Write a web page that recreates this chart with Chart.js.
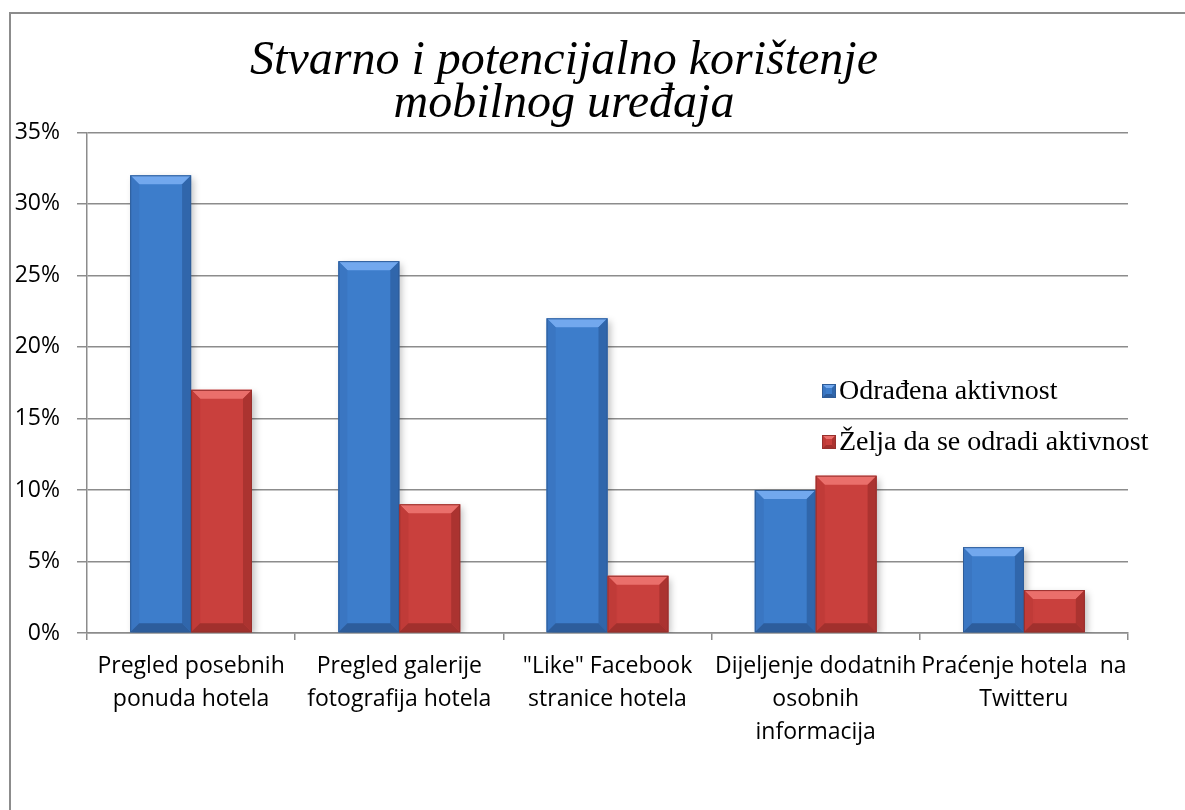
<!DOCTYPE html>
<html>
<head>
<meta charset="utf-8">
<script src="https://cdn.jsdelivr.net/npm/chart.js@4.4.1/dist/chart.umd.min.js"></script>
<style>
  html, body { margin: 0; padding: 0; background: #fff; }
  #wrap { width: 1185px; height: 810px; }
</style>
</head>
<body>
<div id="wrap"><canvas id="mobile-chart" width="1185" height="810"></canvas></div>
<script>
// chart data
const categories = [
    ['Pregled posebnih', 'ponuda hotela'],
    ['Pregled galerije', 'fotografija hotela'],
    ['"Like" Facebook', 'stranice hotela'],
    ['Dijeljenje dodatnih', 'osobnih', 'informacija'],
    ['Praćenje hotela  na', 'Twitteru']
];
const seriesNames = ['Odrađena aktivnost', 'Želja da se odradi aktivnost'];
const doneValues = [32, 26, 22, 10, 6];
const wishValues = [17, 9, 4, 11, 3];
const titleLines = ['Stvarno i potencijalno korištenje', 'mobilnog uređaja'];

// colours for the bevelled bars
const palette = [
    { body: '#3d7dcb', top: '#72a8ee', left: '#3a76c2', right: '#3066ab', bottom: '#2d5d9c', edge: '#2e5c98' },
    { body: '#c9403d', top: '#ea6f6b', left: '#c03b38', right: '#ab3330', bottom: '#a1302d', edge: '#97302d' }
];

const sansFont = "'Open Sans', sans-serif";
const serifFont = "'Liberation Serif', 'Times New Roman', serif";

// outer frame like the original document box
const framePlugin = {
    id: 'frame',
    beforeDraw(chart) {
        const ctx = chart.ctx;
        ctx.save();
        ctx.fillStyle = '#fff';
        ctx.fillRect(0, 0, chart.width, chart.height);
        ctx.strokeStyle = '#8c8c8c';
        ctx.lineWidth = 2;
        ctx.beginPath();
        ctx.moveTo(10, chart.height);
        ctx.lineTo(10, 13);
        ctx.lineTo(chart.width, 13);
        ctx.stroke();
        ctx.restore();
    }
};

// soft shadow under the bars
const shadowPlugin = {
    id: 'barShadow',
    beforeDatasetsDraw(chart) {
        const ctx = chart.ctx;
        ctx.save();
        ctx.shadowColor = 'rgba(0,0,0,0.25)';
        ctx.shadowBlur = 7;
        ctx.shadowOffsetX = 3;
        ctx.shadowOffsetY = 3;
    },
    afterDatasetsDraw(chart) {
        chart.ctx.restore();
    }
};

function bevel(ctx, l, t, r, b, col, size) {
    const s = Math.min(size, (b - t) / 2, (r - l) / 2);
    const poly = (pts, c) => {
        ctx.fillStyle = c;
        ctx.beginPath();
        ctx.moveTo(pts[0][0], pts[0][1]);
        for (let i = 1; i < pts.length; i++) ctx.lineTo(pts[i][0], pts[i][1]);
        ctx.closePath();
        ctx.fill();
    };
    poly([[l, t], [r, t], [r - s, t + s], [l + s, t + s]], col.top);
    poly([[l, t], [l + s, t + s], [l + s, b - s], [l, b]], col.left);
    poly([[r, t], [r, b], [r - s, b - s], [r - s, t + s]], col.right);
    poly([[l, b], [l + s, b - s], [r - s, b - s], [r, b]], col.bottom);
    ctx.strokeStyle = col.edge;
    ctx.lineWidth = 1;
    ctx.strokeRect(l + 0.5, t + 0.5, r - l - 1, b - t - 1);
}

// bevel highlights drawn over each bar the library placed
const bevelPlugin = {
    id: 'bevel',
    afterDatasetsDraw(chart) {
        const ctx = chart.ctx;
        ctx.save();
        chart.data.datasets.forEach((ds, i) => {
            const meta = chart.getDatasetMeta(i);
            meta.data.forEach(bar => {
                const p = bar.getProps(['x', 'y', 'base', 'width'], true);
                bevel(ctx, p.x - p.width / 2, p.y, p.x + p.width / 2, p.base, palette[i], 9);
            });
        });
        ctx.restore();
    }
};

// legend placed inside the plot, right side
const legendPlugin = {
    id: 'sideLegend',
    afterDraw(chart) {
        const ctx = chart.ctx;
        ctx.save();
        ctx.font = '28px ' + serifFont;
        ctx.textBaseline = 'middle';
        const x = 822;
        const ys = [391, 442];
        chart.data.datasets.forEach((ds, i) => {
            const y = ys[i];
            ctx.fillStyle = palette[i].body;
            ctx.fillRect(x, y - 7, 14, 14);
            bevel(ctx, x, y - 7, x + 14, y + 7, palette[i], 4);
            ctx.fillStyle = '#000';
            ctx.fillText(ds.label, x + 17, y + 1);
        });
        ctx.restore();
    }
};

const mobileChart = new Chart(document.querySelector('#mobile-chart').getContext('2d'), {
    type: 'bar',
    data: {
        labels: categories,
        datasets: [
            {
                label: seriesNames[0],
                data: doneValues,
                backgroundColor: palette[0].body,
                categoryPercentage: 0.585,
                barPercentage: 1
            },
            {
                label: seriesNames[1],
                data: wishValues,
                backgroundColor: palette[1].body,
                categoryPercentage: 0.585,
                barPercentage: 1
            }
        ]
    },
    options: {
        responsive: false,
        animation: false,
        devicePixelRatio: 1,
        layout: { padding: { left: 0, right: 57, top: 20, bottom: 0 } },
        plugins: {
            legend: { display: false },
            tooltip: { enabled: false },
            title: {
                display: true,
                text: titleLines,
                color: '#000',
                font: { family: serifFont, size: 48, style: 'italic', weight: 'normal', lineHeight: 0.9 },
                padding: { top: 20, bottom: 6 }
            }
        },
        scales: {
            x: {
                afterFit(scale) { scale.height = 177; },
                grid: { display: true, drawOnChartArea: false, color: '#8c8c8c', lineWidth: 1.5, tickLength: 7, offset: true },
                border: { color: '#8c8c8c', width: 1.5 },
                ticks: {
                    autoSkip: false,
                    maxRotation: 0,
                    color: '#000',
                    padding: 10,
                    font: { family: sansFont, size: 23, lineHeight: 1.43 }
                }
            },
            y: {
                min: 0,
                max: 35,
                afterFit(scale) { scale.width = 87; },
                grid: { color: '#8c8c8c', lineWidth: 1.5, tickLength: 10 },
                border: { color: '#8c8c8c', width: 1.5 },
                ticks: {
                    stepSize: 5,
                    color: '#000',
                    padding: 17,
                    font: { family: sansFont, size: 23 },
                    callback: v => v + '%'
                }
            }
        }
    },
    plugins: [framePlugin, shadowPlugin, bevelPlugin, legendPlugin]
});
</script>
</body>
</html>
